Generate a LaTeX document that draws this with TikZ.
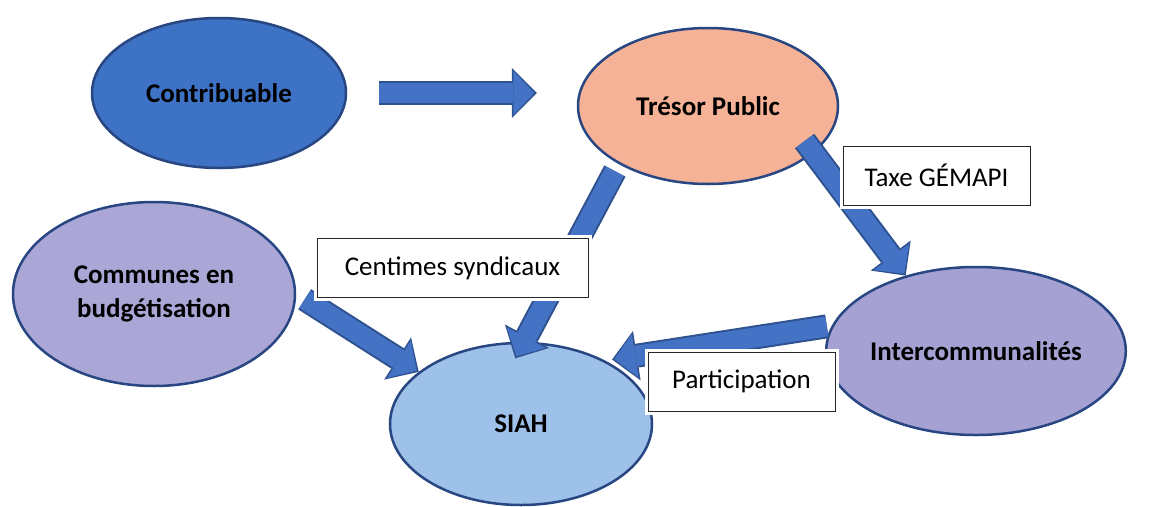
\documentclass[tikz,border=0pt]{standalone}
\usepackage{fontspec}
\setmainfont{Carlito}
\usetikzlibrary{calc,positioning,shapes.geometric,arrows.meta}

\definecolor{edgeblue}{RGB}{40,70,130}
\definecolor{flowblue}{RGB}{68,114,196}
\definecolor{flowedge}{RGB}{47,82,143}
\definecolor{contribfill}{RGB}{62,114,196}
\definecolor{tresorfill}{RGB}{245,178,150}
\definecolor{communesfill}{RGB}{170,166,214}
\definecolor{siahfill}{RGB}{157,193,233}
\definecolor{intercofill}{RGB}{166,161,211}

\begin{document}
\begin{tikzpicture}[x=1pt, y=-1pt,
  actor/.style = {draw=edgeblue, line width=2.5pt, ellipse, inner sep=0pt, align=center, font=\fontsize{27}{34}\selectfont\bfseries},
  amount/.style = {draw=black!85, line width=1pt, fill=white, minimum height=59pt, font=\fontsize{27}{32}\selectfont, preaction={draw=white, line width=7pt}},
  flow/.style = {draw=flowblue, line width=20pt, -{Triangle[width=44pt, length=21pt, line width=0pt, sep=2.4pt]},
    preaction={draw=flowedge, line width=24pt, -{Triangle[width=50pt, length=25pt, line width=0pt]}}}]
	\useasboundingbox (0,0) rectangle (1156,506);
	\node[actor, fill=contribfill, minimum width=254pt, minimum height=150pt] (contrib) at (219,93) {Contribuable};
	\node[actor, fill=tresorfill, minimum width=260pt, minimum height=156pt] (tresor) at (708,106) {Trésor Public};
	\node[actor, fill=communesfill, minimum width=282pt, minimum height=184pt] (communes) at (154,294) {Communes en\\budgétisation};
	\node[actor, fill=siahfill, minimum width=262pt, minimum height=162pt] (siah) at (521,424) {SIAH};
	\node[actor, fill=intercofill, minimum width=292pt, minimum height=168pt] (interco) at (976,351) {Intercommunalités};
	% flows
	\draw[flow, shorten <=32pt, shorten >=40pt] (contrib.east) -- (contrib.east -| tresor.west);
	\draw[flow, shorten <=8pt] (tresor.213) -- ($(siah.95)!.2!(siah.center)$);
	\draw[flow, shorten <=-15pt] (tresor.-24) -- (interco.133);
	\draw[flow, shorten <=10pt] (communes.east) -- (siah.153);
	\draw[flow, shorten <=5pt, shorten >=7pt] (interco.170) -- (siah.37);
	% amounts
	\node[amount, minimum width=271pt] (centimes) at (452.5,268) {Centimes syndicaux};
	\node[amount, minimum width=187pt] (taxe) at (936.5,175.5) {Taxe GÉMAPI};
	\node[amount, minimum width=187pt] (particip) at (741.5,381.5) {Participation};
\end{tikzpicture}
\end{document}
